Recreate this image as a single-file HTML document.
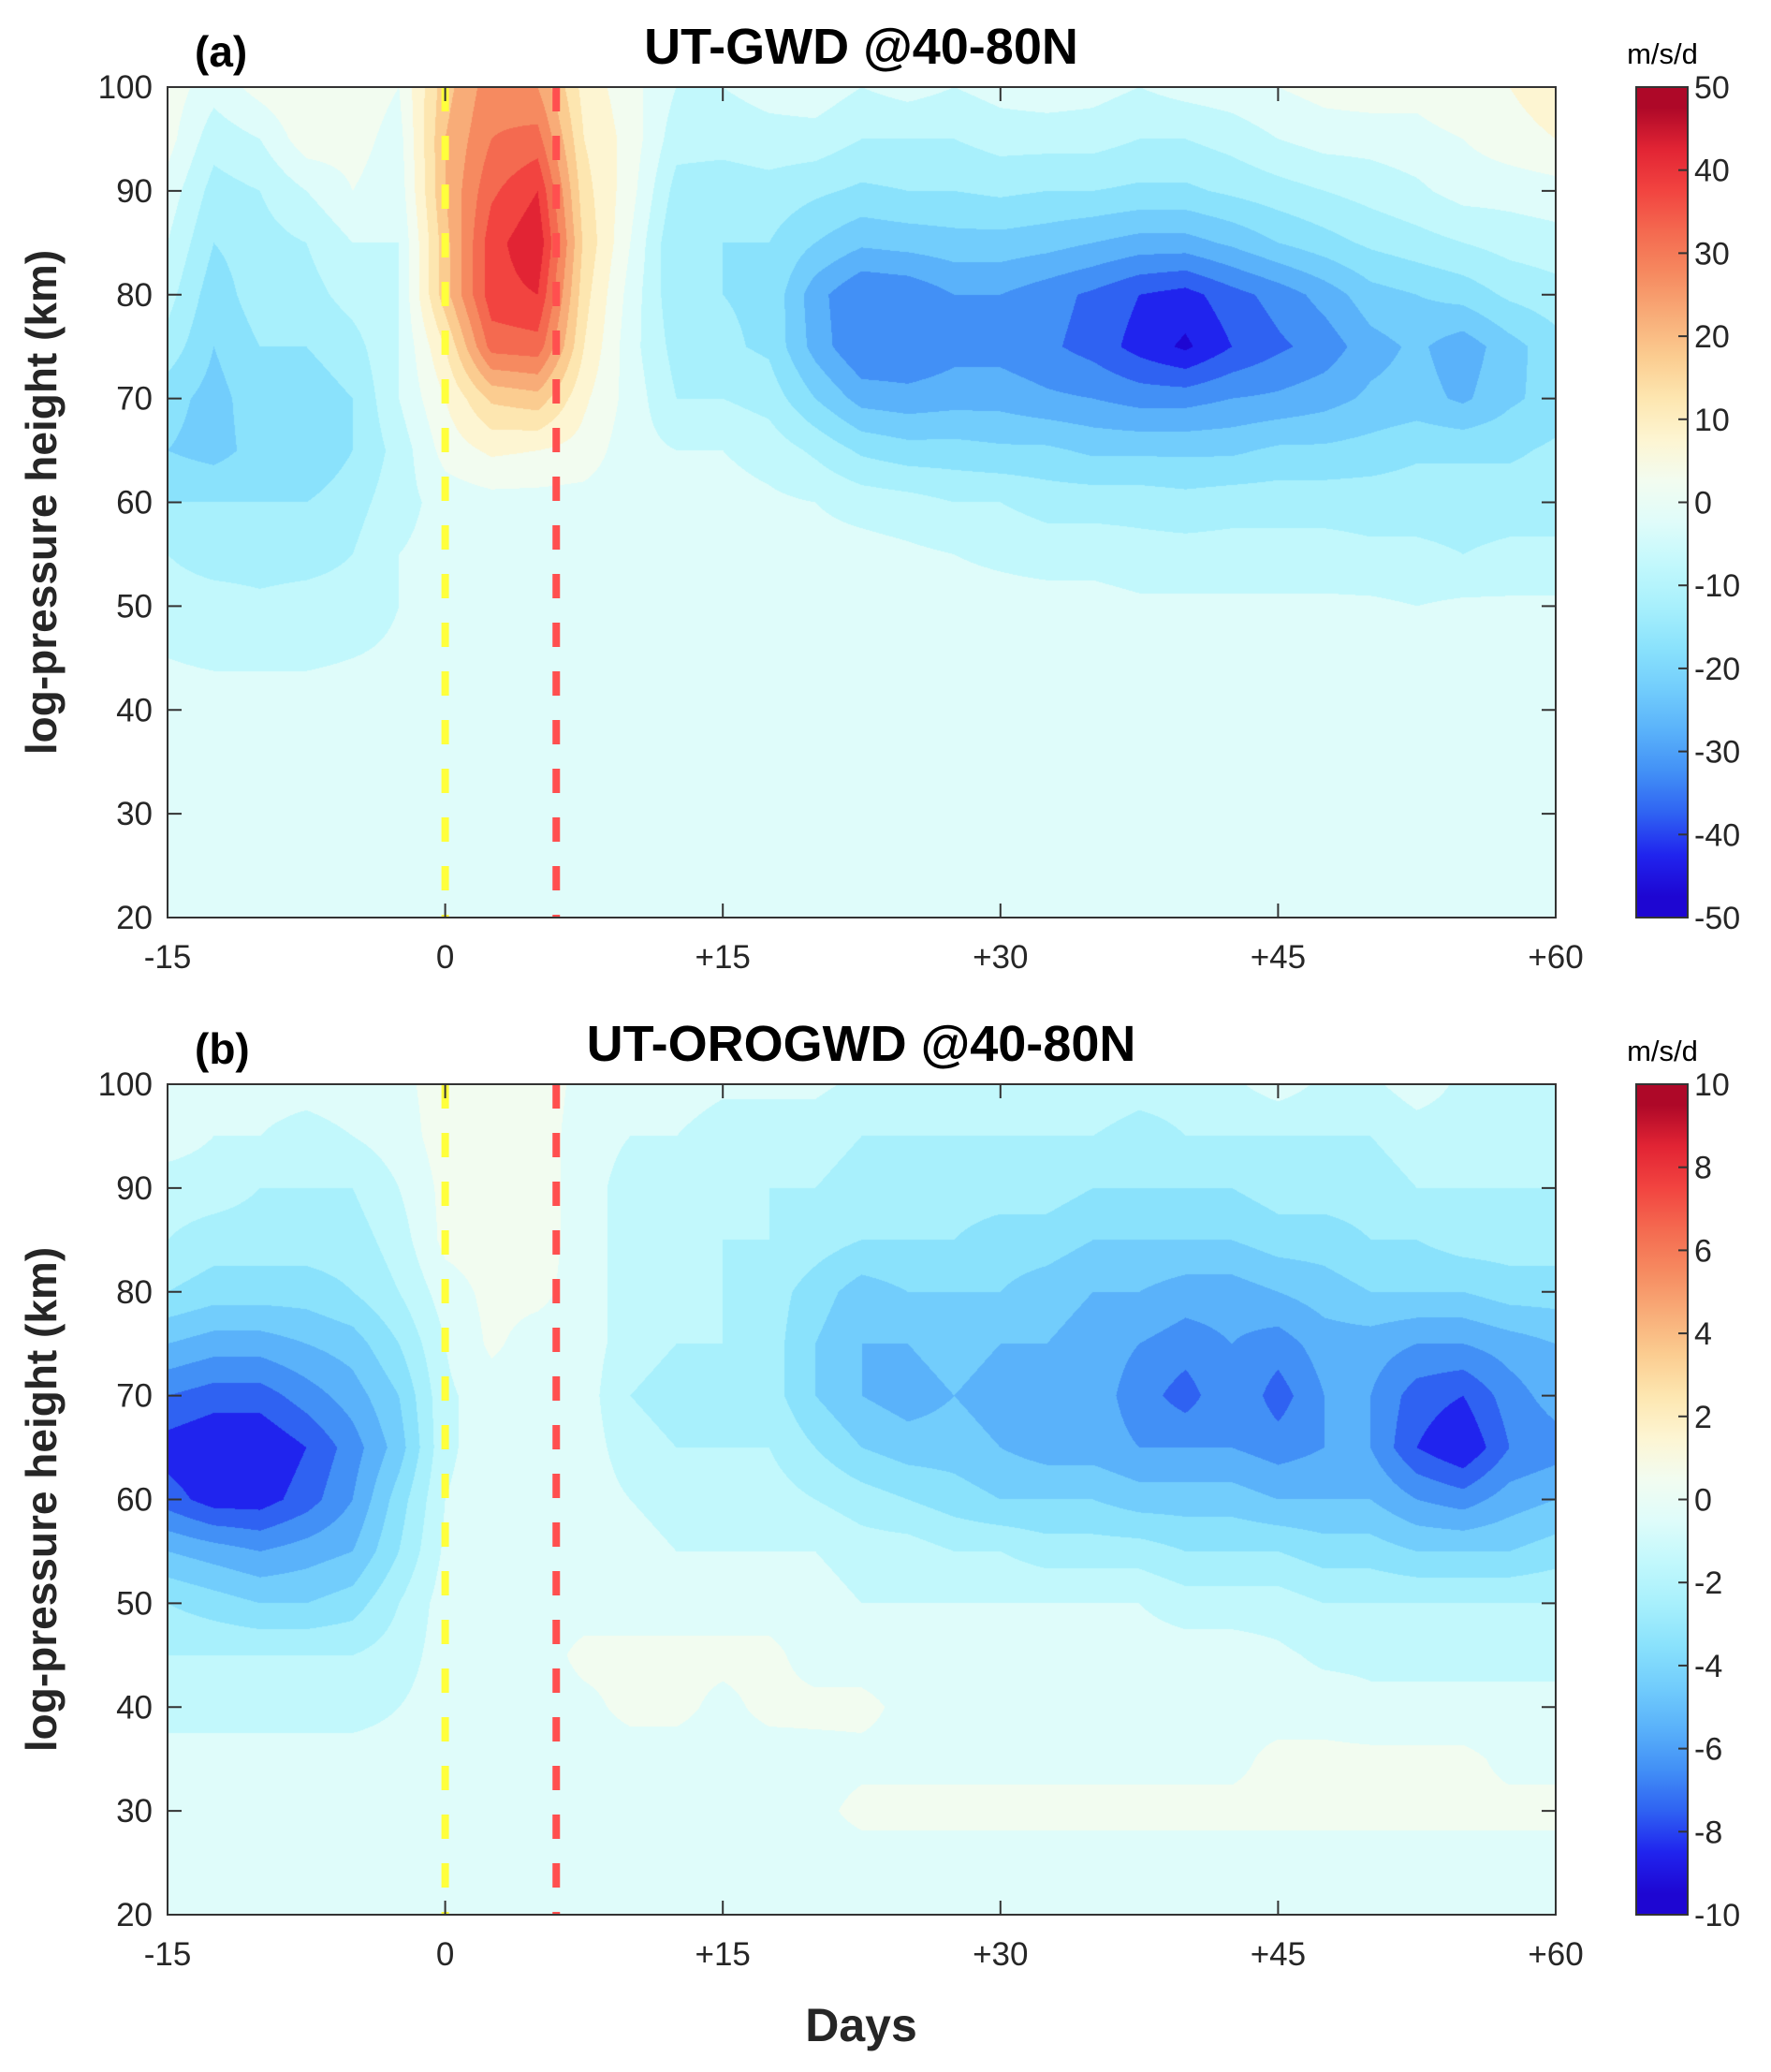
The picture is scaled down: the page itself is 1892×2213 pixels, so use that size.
<!DOCTYPE html>
<html><head><meta charset="utf-8"><style>
body{margin:0;background:#fff;}
#root{position:relative;width:1892px;height:2213px;overflow:hidden;background:#fff;font-family:"Liberation Sans",Arial,sans-serif;}
canvas{position:absolute;}
svg{position:absolute;left:0;top:0;}
</style></head><body>
<div id="root">
<canvas id="cA" width="1483" height="887" style="left:179px;top:93px"></canvas>
<canvas id="cB" width="1483" height="887" style="left:179px;top:1158px"></canvas>
<svg id="sv" width="1892" height="2213"></svg>
</div>
<script>
const days=[-15,-12.5,-10,-7.5,-5,-2.5,0,2.5,5,7.5,10,12.5,15,17.5,20,22.5,25,27.5,30,32.5,35,37.5,40,42.5,45,47.5,50,52.5,55,57.5,60];
const heights=[100,95,90,85,80,75,70,65,60,55,50,45,40,35,30,25,20];
const xTicks=[-15,0,15,30,45,60];
const xTickLabels=["-15","0","+15","+30","+45","+60"];
const yTicks=[20,30,40,50,60,70,80,90,100];
const cbTicksA=[-50,-40,-30,-20,-10,0,10,20,30,40,50];
const cbTicksB=[-10,-8,-6,-4,-2,0,2,4,6,8,10];
const markerDays=[0,6];
const M2=Array(31).fill(-2);
const gwdA=[
[3,-3,2,5,3,0,18,28,25,8,2,-5,-5,-3,-2,-5,-3,-5,-3,-2,-3,-5,-3,-2,0,2,3,2,5,5,8],
[2,-8,-5,3,2,-2,20,30,32,10,3,-8,-8,-7,-7,-10,-10,-10,-8,-8,-8,-10,-10,-8,-5,-3,-3,-2,0,3,5],
[-2,-12,-10,-5,0,-3,20,34,40,12,2,-12,-13,-12,-14,-16,-15,-15,-14,-15,-15,-16,-16,-14,-12,-10,-8,-6,-3,-3,-2],
[-5,-15,-12,-10,-5,-5,18,38,44,14,0,-15,-15,-15,-20,-24,-23,-22,-22,-23,-25,-27,-27,-24,-20,-17,-14,-12,-10,-8,-7],
[-8,-18,-12,-12,-8,-5,18,38,40,12,-2,-14,-15,-16,-28,-35,-34,-30,-30,-33,-36,-40,-42,-37,-33,-28,-22,-20,-18,-14,-12],
[-12,-20,-15,-15,-12,-5,10,32,33,10,-3,-12,-14,-16,-27,-35,-35,-32,-32,-34,-37,-42,-46,-40,-36,-33,-27,-24,-28,-22,-17],
[-18,-22,-17,-18,-15,-5,5,16,18,6,-2,-10,-10,-12,-20,-27,-28,-27,-27,-29,-30,-32,-32,-30,-29,-27,-24,-23,-26,-21,-18],
[-20,-22,-18,-20,-15,-8,2,6,5,3,-3,-5,-5,-7,-11,-16,-18,-18,-19,-19,-21,-21,-21,-21,-19,-19,-18,-16,-16,-16,-14],
[-15,-15,-15,-15,-12,-7,-3,-2,-2,-2,-3,-3,-3,-4,-5,-7,-8,-10,-10,-12,-12,-12,-13,-12,-12,-12,-12,-12,-12,-12,-12],
[-10,-12,-12,-12,-10,-5,-3,-2,-2,-2,-2,-2,-2,-3,-3,-3,-4,-5,-6,-7,-7,-8,-8,-8,-8,-8,-9,-9,-10,-9,-9],
[-8,-8,-9,-8,-8,-5,-3,-2,-2,-2,-2,-2,-2,-2,-2,-2,-3,-3,-3,-3,-3,-4,-4,-4,-4,-4,-4,-5,-4,-4,-4],
[-5,-6,-6,-6,-5,-4,-3,-2,-2,-2,-2,-2,-2,-2,-2,-2,-2,-2,-2,-2,-2,-2,-2,-2,-2,-2,-2,-2,-2,-2,-2],
M2,M2,M2,M2,M2];
const H5=Array(31).fill(-0.5);
const orogB=[
[-0.3,-0.5,-0.5,-0.5,-0.3,-0.3,0.5,0.5,0.5,-0.3,-0.5,-0.5,-0.8,-0.8,-0.8,-1.2,-1.2,-1.5,-1.2,-1.2,-1.2,-1.5,-1.5,-1.2,-0.5,-1.2,-1.2,-0.5,-1.2,-1.2,-1.2],
[-0.5,-1,-1,-1.5,-1,-0.5,0.5,0.5,0.5,-0.5,-1,-1,-1.5,-1.5,-1.5,-2,-2,-2,-2,-2,-2,-2.5,-2,-2,-2,-2,-2,-1.5,-1.5,-1.5,-1.5],
[-1.5,-1.5,-2,-2,-2,-1,0.3,0.5,0.5,-0.5,-1.5,-1.5,-2,-2,-2,-2.5,-2.5,-2.5,-2.5,-2.5,-3,-3,-3,-3,-2.5,-2.5,-2.5,-2,-2,-2,-2],
[-2,-2.5,-2.5,-2.5,-2.5,-1.5,0.3,0.5,0.5,-0.5,-1.5,-2,-2,-2,-2.5,-3,-3,-3,-3.5,-3.5,-4,-4,-4,-4,-3.5,-3.5,-3,-3,-2.5,-2.5,-2.5],
[-3,-3.5,-3.5,-3.5,-3,-2,-0.5,0.3,0.3,-0.5,-1.5,-2,-2,-2.5,-3.5,-4.5,-4,-4,-4,-4.5,-5,-5,-5.5,-5.5,-5,-4.5,-4,-4,-4,-3.5,-3.5],
[-5,-5.5,-5.5,-5,-4.5,-3,-1,0.2,-0.5,-0.5,-1.5,-2,-2,-2.5,-4,-5,-5,-4.5,-5,-5,-5.5,-6,-6.5,-6,-6.5,-5.5,-5.5,-6,-6,-5.5,-5],
[-7,-7.5,-7.5,-6.5,-5.5,-4,-1.2,-0.5,-0.5,-0.5,-2,-2.5,-2,-2.5,-4,-5,-5.5,-5,-5.5,-6,-5.5,-6.5,-7.5,-6,-7.5,-6,-6,-7.5,-8,-6.5,-5.5],
[-8.5,-9,-9,-8,-6.5,-4.5,-1.2,-0.5,-0.5,-0.5,-1.5,-2,-2,-2,-3,-4,-4.5,-4.5,-5,-5.5,-5.5,-6,-6,-6,-6.5,-6,-6,-8,-9,-7,-6.5],
[-7.5,-8.5,-8.5,-7.5,-6,-3.5,-1,-0.5,-0.5,-0.5,-1,-1.5,-1.5,-1.5,-2,-2.5,-3,-3.5,-4,-4,-4,-4.5,-4.5,-4.5,-5,-5,-5,-6,-6.5,-5.5,-5],
[-5,-5.5,-6,-5.5,-5,-3,-0.8,-0.5,-0.5,-0.5,-0.5,-1,-1,-1,-1,-1.5,-1.5,-2,-2,-2.5,-2.5,-2.5,-3,-3,-3,-3.5,-3.5,-4,-4,-4,-3.5],
[-3,-3.5,-4,-4,-3.5,-2,-0.5,-0.5,-0.5,-0.5,-0.5,-0.5,-0.5,-0.5,-0.5,-1,-1,-1,-1,-1,-1,-1,-1.5,-1.5,-1.5,-2,-2,-2,-2,-2,-2],
[-2,-2,-2,-2,-2,-1.5,-0.5,-0.5,-0.5,0.3,0.3,0.3,0.3,0.3,-0.5,-0.5,-0.5,-0.5,-0.5,-0.5,-0.5,-0.5,-0.5,-0.5,-0.8,-1.2,-1.2,-1.2,-1.2,-1.2,-1.2],
[-1.5,-1.5,-1.5,-1.5,-1.5,-1,-0.5,-0.5,-0.5,-0.3,0.3,0.3,-0.3,0.3,0.3,0.3,-0.3,-0.3,-0.3,-0.3,-0.3,-0.3,-0.3,-0.3,-0.5,-0.5,-0.8,-0.8,-0.8,-0.8,-0.8],
[-0.5,-0.5,-0.5,-0.5,-0.5,-0.5,-0.5,-0.5,-0.5,-0.5,-0.5,-0.5,-0.5,-0.5,-0.4,-0.3,-0.3,-0.3,-0.3,-0.3,-0.3,-0.3,-0.3,-0.3,0.3,0.3,0.3,0.3,0.3,-0.3,-0.3],
[-0.5,-0.5,-0.5,-0.5,-0.5,-0.5,-0.5,-0.5,-0.5,-0.5,-0.5,-0.5,-0.5,-0.5,-0.3,0.3,0.3,0.3,0.3,0.3,0.3,0.3,0.3,0.3,0.3,0.3,0.3,0.3,0.3,0.3,0.3],
H5,H5];

const band=["#1e06d2","#2024ee","#2f62f2","#4290f6","#5ab2fa","#72cdfc","#8ae2fc","#a8f0fc","#c2f8fc","#dffcfa",
"#f2fcf0","#fdf5d2","#fde6b0","#fbcc90","#f8ac78","#f68a60","#f46a50","#f24440","#e22434","#ae0828"];
const PL=179,PR=1662,W=PR-PL,H=887;
function xs(d){return PL+(d+15)/75*W;}
function ys(h,top){return top+(100-h)/80*H;}
function hex(c){return [parseInt(c.substr(1,2),16),parseInt(c.substr(3,2),16),parseInt(c.substr(5,2),16)];}
const bandRGB=band.map(hex);
function draw(id,grid,vmax){
  const cv=document.getElementById(id),ctx=cv.getContext('2d');
  const img=ctx.createImageData(W,H);
  const nc=days.length,nr=heights.length;
  for(let py=0;py<H;py++){
    const h=100-80*(py+0.5)/H;
    let r=(100-h)/5; let r0=Math.min(Math.floor(r),nr-2); let fr=r-r0;
    for(let px=0;px<W;px++){
      const d=-15+75*(px+0.5)/W;
      let c=(d+15)/2.5; let c0=Math.min(Math.floor(c),nc-2); let fc=c-c0;
      const v=(grid[r0][c0]*(1-fc)+grid[r0][c0+1]*fc)*(1-fr)+(grid[r0+1][c0]*(1-fc)+grid[r0+1][c0+1]*fc)*fr;
      let b=Math.floor((v+vmax)/(2*vmax)*20); b=Math.max(0,Math.min(19,b));
      const k=(py*W+px)*4,col=bandRGB[b];
      img.data[k]=col[0];img.data[k+1]=col[1];img.data[k+2]=col[2];img.data[k+3]=255;
    }
  }
  ctx.putImageData(img,0,0);
}
draw('cA',gwdA,50);draw('cB',orogB,10);

const NS="http://www.w3.org/2000/svg",sv=document.getElementById('sv');
function el(tag,attrs,txt){const e=document.createElementNS(NS,tag);for(const k in attrs)e.setAttribute(k,attrs[k]);if(txt!==undefined)e.textContent=txt;sv.appendChild(e);return e;}
const defs=el('defs',{});
const lg=document.createElementNS(NS,'linearGradient');lg.setAttribute('id','cbg');lg.setAttribute('x1','0');lg.setAttribute('y1','1');lg.setAttribute('x2','0');lg.setAttribute('y2','0');
band.forEach((c,i)=>{const s=document.createElementNS(NS,'stop');s.setAttribute('offset',(i+0.5)/20);s.setAttribute('stop-color',c);lg.appendChild(s);});
defs.appendChild(lg);

function panel(top,letter,title,cbTicks,key){
  const bot=top+H;
  markerDays.forEach((d,i)=>{
    const l=el('line',{x1:xs(d),x2:xs(d),y1:top,y2:bot,stroke:i===0?'#ffff3c':'#ff4f4f','stroke-width':8,'stroke-dasharray':'26 26'});
    
    
  });
  const fr=el('rect',{x:PL,y:top,width:W,height:H,fill:'none',stroke:'#333','stroke-width':2});
  
  xTicks.forEach((d,i)=>{
    const x=xs(d);
    el('line',{x1:x,x2:x,y1:bot,y2:bot-15,stroke:'#333','stroke-width':2});
    el('line',{x1:x,x2:x,y1:top,y2:top+15,stroke:'#333','stroke-width':2});
    const t=el('text',{x:x,y:bot+54,'text-anchor':'middle','font-size':35,fill:'#262626'},xTickLabels[i]);
    
  });
  yTicks.forEach(h=>{
    const y=ys(h,top);
    el('line',{x1:PL,x2:PL+15,y1:y,y2:y,stroke:'#333','stroke-width':2});
    el('line',{x1:PR,x2:PR-15,y1:y,y2:y,stroke:'#333','stroke-width':2});
    const t=el('text',{x:PL-16,y:y+12,'text-anchor':'end','font-size':35,fill:'#262626'},String(h));
    
  });
  const yl=el('text',{x:0,y:0,transform:`translate(60,${top+H/2}) rotate(-90)`,'text-anchor':'middle','font-size':46,'font-weight':'bold',fill:'#262626'},'log-pressure height (km)');
  
  const tt=el('text',{x:920,y:top-25,'text-anchor':'middle','font-size':54,'font-weight':'bold',fill:'#000'},title);
  
  const lt=el('text',{x:208,y:top-22,'font-size':46,'font-weight':'bold',fill:'#000'},letter);
  
  const cb=el('rect',{x:1748,y:top,width:55,height:H,fill:'url(#cbg)',stroke:'#333','stroke-width':2});
  
  const vmax=cbTicks[cbTicks.length-1];
  cbTicks.forEach(v=>{
    const y=top+(vmax-v)/(2*vmax)*H;
    el('line',{x1:1803,x2:1793,y1:y,y2:y,stroke:'#333','stroke-width':2});
    const t=el('text',{x:1810,y:y+12,'font-size':34,fill:'#262626'},String(v));
    
  });
  const u=el('text',{x:1776,y:top-25,'text-anchor':'middle','font-size':31,fill:'#000'},'m/s/d');
  
}
panel(93,'(a)','UT-GWD @40-80N',cbTicksA,'a');
panel(1158,'(b)','UT-OROGWD @40-80N',cbTicksB,'b');
const xl=el('text',{x:920,y:2180,'text-anchor':'middle','font-size':50,'font-weight':'bold',fill:'#262626'},'Days');


</script>
</body></html>
